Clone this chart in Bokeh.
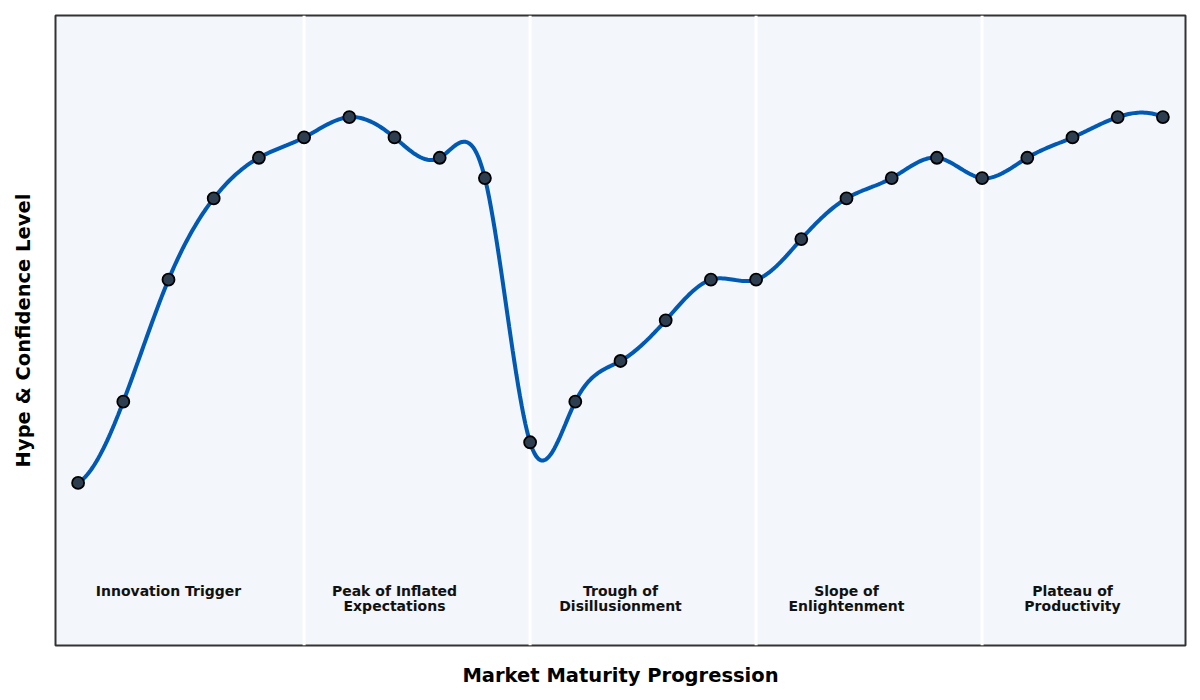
import numpy as np
from bokeh.plotting import figure
from bokeh.models import Span, FixedTicker, ColumnDataSource
from bokeh.core.properties import value
from bokeh.embed import file_html
from bokeh.resources import INLINE

# ---- data ----
stages = list(range(25))
hype = [5, 25, 55, 75, 85, 90, 95, 90, 85, 80, 15, 25, 35, 45, 55, 55,
        65, 75, 80, 85, 80, 85, 90, 95, 95]
phase_names = ["Innovation Trigger", "Peak of Inflated\nExpectations",
               "Trough of\nDisillusionment", "Slope of\nEnlightenment",
               "Plateau of\nProductivity"]
phase_centers = [2, 7, 12, 17, 22]
phase_bounds = [5, 10, 15, 20]
label_level = -19.5


# ---- not-a-knot cubic spline (uniform spacing) ----
def spline(xs, ys, num=600):
    xs = np.asarray(xs, float)
    ys = np.asarray(ys, float)
    n = len(xs)
    h = xs[1] - xs[0]
    A = np.zeros((n, n))
    b = np.zeros(n)
    A[0, 0:3] = [1, -2, 1]
    A[-1, -3:] = [1, -2, 1]
    for i in range(1, n - 1):
        A[i, i - 1:i + 2] = [1, 4, 1]
        b[i] = 6 * (ys[i + 1] - 2 * ys[i] + ys[i - 1]) / h ** 2
    M = np.linalg.solve(A, b)
    xx = np.linspace(xs[0], xs[-1], num)
    idx = np.clip(((xx - xs[0]) // h).astype(int), 0, n - 2)
    t = (xx - xs[idx]) / h
    yy = (M[idx] * (1 - t) ** 3 / 6 + M[idx + 1] * t ** 3 / 6) * h ** 2 \
        + (ys[idx] - M[idx] * h ** 2 / 6) * (1 - t) \
        + (ys[idx + 1] - M[idx + 1] * h ** 2 / 6) * t
    return xx, yy


sx, sy = spline(stages, hype)

FONT = "DejaVu Sans"

p = figure(width=1192, height=692, x_range=(-0.5, 24.5), y_range=(-35, 120),
           output_backend="svg", toolbar_location=None,
           min_border_left=55, min_border_right=7, min_border_top=15,
           min_border_bottom=47)
p.background_fill_color = "#f3f6fa"
p.border_fill_color = "white"
p.outline_line_color = "#333333"
p.outline_line_width = 2
p.grid.visible = False

for ax, lab, so in ((p.xaxis, "Market Maturity Progression", 18),
                    (p.yaxis, "Hype & Confidence Level", 21)):
    ax.ticker = FixedTicker(ticks=[])
    ax.axis_line_color = None
    ax.major_tick_line_color = None
    ax.minor_tick_line_color = None
    ax.axis_label = lab
    ax.axis_label_text_font = FONT
    ax.axis_label_text_font_style = "bold"
    ax.axis_label_text_font_size = "19.5px"
    ax.axis_label_text_color = "#000000"
    ax.axis_label_standoff = so

for bx in phase_bounds:
    p.add_layout(Span(location=bx, dimension="height", line_color="white",
                      line_width=3, level="underlay"))

p.line(sx, sy, line_color="#0059b3", line_width=4)
p.scatter(stages, hype, size=12, fill_color="#2c3e50", line_color="black",
          line_width=1.8)

src = ColumnDataSource(dict(x=phase_centers, y=[label_level] * 5, t=phase_names))
p.text(x="x", y="y", text="t", source=src, text_align="center",
       text_baseline="top", text_font=value(FONT), text_font_style="bold",
       text_font_size="14px", text_color="#111111", text_line_height=0.98)

open("out.html", "w").write(file_html(p, INLINE))
